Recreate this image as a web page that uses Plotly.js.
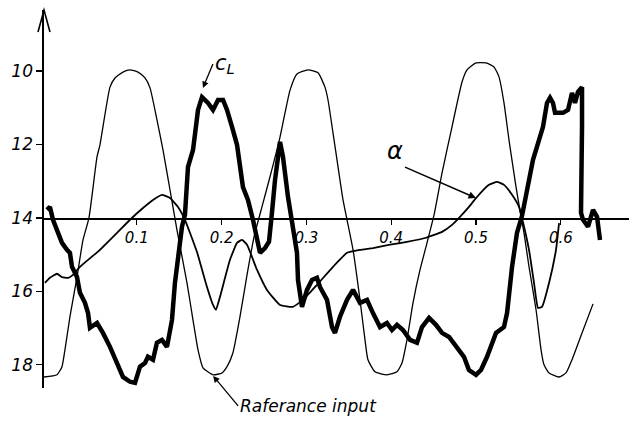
<!DOCTYPE html>
<html>
<head>
<meta charset="utf-8">
<script src="https://cdn.plot.ly/plotly-3.0.1.min.js"></script>
<style>html,body{margin:0;padding:0;background:#fff;}#chart{width:629px;height:427px;}</style>
</head>
<body>
<div id="chart"></div>
<script>
// Reference input (thin line)
const refX = [-0.0094,0.0059,0.0118,0.0153,0.0212,0.0295,0.0366,0.0436,0.0531,0.0566,0.0684,0.0743,0.0837,0.0920,0.1014,0.1097,0.1156,0.1238,0.1309,0.1392,0.1474,0.1592,0.1663,0.1722,0.1781,0.1899,0.2005,0.2064,0.2134,0.2217,0.2300,0.2382,0.2476,0.2571,0.2689,0.2748,0.2807,0.2889,0.3019,0.3137,0.3219,0.3255,0.3314,0.3373,0.3432,0.3479,0.3550,0.3632,0.3691,0.3726,0.3809,0.3950,0.4068,0.4127,0.4186,0.4257,0.4340,0.4410,0.4505,0.4599,0.4717,0.4835,0.4894,0.5000,0.5118,0.5212,0.5271,0.5330,0.5389,0.5472,0.5531,0.5566,0.5625,0.5708,0.5767,0.5802,0.5861,0.5979,0.6061,0.6132,0.6250,0.6380];
const refY = [18.33,18.27,18.05,17.59,16.69,15.61,14.60,14.00,12.34,12.01,10.44,10.19,10.03,9.97,10.03,10.19,10.46,11.33,12.15,13.24,14.33,15.77,16.78,17.59,18.08,18.27,18.22,18.05,17.67,16.69,15.55,14.52,13.70,12.88,11.80,11.14,10.52,10.08,9.97,10.05,10.44,10.79,11.69,12.61,13.51,14.05,14.87,16.23,17.32,17.86,18.19,18.27,18.19,17.95,17.32,16.31,15.41,14.79,13.92,12.78,11.52,10.30,9.97,9.78,9.78,9.89,10.16,10.87,11.88,13.16,13.97,14.41,15.33,16.50,17.59,18.00,18.22,18.33,18.22,17.86,17.13,16.34];

// alpha (medium line)
const alphaX = [-0.0083,-0.0024,0.0059,0.0118,0.0189,0.0248,0.0330,0.0566,0.0767,0.0920,0.1073,0.1191,0.1297,0.1392,0.1486,0.1568,0.1710,0.1828,0.1899,0.1934,0.1981,0.2099,0.2182,0.2241,0.2300,0.2417,0.2535,0.2689,0.2842,0.2960,0.3125,0.3314,0.3479,0.3632,0.3785,0.3986,0.4186,0.4410,0.4599,0.4717,0.4811,0.4917,0.5000,0.5153,0.5248,0.5330,0.5425,0.5507,0.5542,0.5625,0.5684,0.5731,0.5778,0.5861,0.5943,0.5979];
const alphaY = [15.77,15.63,15.52,15.61,15.63,15.55,15.33,14.87,14.41,14.05,13.73,13.51,13.37,13.46,13.70,14.05,14.93,15.88,16.37,16.50,16.15,15.14,14.68,14.60,14.73,15.41,15.96,16.37,16.42,16.23,15.82,15.33,14.95,14.87,14.82,14.73,14.65,14.54,14.38,14.19,13.97,13.70,13.46,13.10,13.02,13.10,13.37,13.70,14.00,14.87,15.77,16.45,16.42,15.77,14.87,14.14];

// c_L (thick line)
const clX = [-0.0059,-0.0024,0.0012,0.0071,0.0118,0.0177,0.0212,0.0236,0.0295,0.0330,0.0389,0.0425,0.0448,0.0531,0.0601,0.0684,0.0767,0.0837,0.0920,0.0979,0.1038,0.1097,0.1132,0.1191,0.1238,0.1297,0.1356,0.1392,0.1415,0.1450,0.1486,0.1533,0.1568,0.1604,0.1663,0.1722,0.1769,0.1840,0.1899,0.1958,0.2017,0.2064,0.2123,0.2182,0.2252,0.2311,0.2370,0.2417,0.2453,0.2512,0.2559,0.2594,0.2630,0.2689,0.2724,0.2783,0.2830,0.2889,0.2901,0.2948,0.3007,0.3066,0.3125,0.3160,0.3243,0.3302,0.3337,0.3396,0.3479,0.3550,0.3632,0.3715,0.3785,0.3868,0.3950,0.4009,0.4068,0.4139,0.4222,0.4304,0.4363,0.4446,0.4528,0.4599,0.4682,0.4776,0.4858,0.4917,0.5000,0.5059,0.5130,0.5236,0.5330,0.5366,0.5425,0.5483,0.5542,0.5672,0.5790,0.5837,0.5873,0.5908,0.5932,0.6026,0.6085,0.6132,0.6167,0.6203,0.6250,0.6250,0.6238,0.6238,0.6262,0.6321,0.6380,0.6427,0.6462];
const clY = [13.78,13.70,14.05,14.41,14.68,14.87,14.95,15.33,15.61,16.04,16.31,16.59,16.99,16.86,17.13,17.51,17.95,18.33,18.46,18.49,18.05,17.95,17.78,17.86,17.40,17.32,17.51,17.13,16.78,15.77,15.06,14.24,13.92,12.61,12.15,11.06,10.71,10.87,11.06,10.79,10.79,11.06,11.52,12.01,13.16,13.51,14.05,14.52,14.95,14.82,14.65,13.86,12.97,11.93,12.34,13.43,14.05,14.95,15.69,16.42,15.96,15.69,15.63,15.88,16.23,16.97,17.13,16.69,16.23,15.96,16.31,16.23,16.59,16.97,16.86,17.05,16.91,17.05,17.32,17.40,16.97,16.72,16.91,17.13,17.24,17.51,17.78,18.14,18.27,18.14,17.78,17.13,16.97,16.59,15.33,14.41,13.95,12.42,11.52,10.87,10.73,10.87,11.14,11.14,11.06,10.60,10.87,10.57,10.44,11.52,12.88,13.86,14.05,14.24,13.78,13.97,14.60];

const xTickVals = [0.1,0.2,0.3,0.4,0.5,0.6];
const xTickText = ['0.1','0.2','0.3','0.4','0.5','0.6'];
const yTickVals = [10,12,14,16,18];
const yTickText = ['10','12','14','16','18'];

const labelCL = 'c<sub>L</sub>';
const labelAlpha = 'α';
const labelRef = 'Raferance input';

const traces = [
  {x: refX, y: refY, type: 'scatter', mode: 'lines', line: {color: '#000', width: 1.3, shape: 'spline', smoothing: 0.5}, hoverinfo: 'skip'},
  {x: alphaX, y: alphaY, type: 'scatter', mode: 'lines', line: {color: '#000', width: 1.8, shape: 'spline', smoothing: 0.4}, hoverinfo: 'skip'},
  {x: clX, y: clY, type: 'scatter', mode: 'lines', line: {color: '#000', width: 4.5, shape: 'linear'}, hoverinfo: 'skip'}
];

const fontBase = {family: 'DejaVu Sans', color: '#000', style: 'italic'};

const layout = {
  width: 629, height: 427,
  margin: {l: 44, r: 0, t: 10, b: 39, pad: 0},
  paper_bgcolor: '#fff', plot_bgcolor: '#fff',
  showlegend: false,
  xaxis: {
    range: [-0.0094, 0.6804],
    anchor: 'free', position: 0.45,
    showline: true, linecolor: '#000', linewidth: 1.8,
    showgrid: false, zeroline: false,
    ticks: 'outside', ticklen: 5, tickwidth: 1.2, tickcolor: '#000',
    tickvals: xTickVals, ticktext: xTickText,
    tickfont: Object.assign({}, fontBase, {size: 15})
  },
  yaxis: {
    range: [18.63, 8.34],
    showline: true, linecolor: '#000', linewidth: 1.6,
    showgrid: false, zeroline: false,
    ticks: 'outside', ticklen: 6, tickwidth: 1.2, tickcolor: '#000',
    tickvals: yTickVals, ticktext: yTickText,
    tickfont: Object.assign({}, fontBase, {size: 17})
  },
  shapes: [
    {type: 'path', xref: 'paper', yref: 'paper', xsizemode: 'pixel', ysizemode: 'pixel',
     xanchor: 0, yanchor: 1, path: 'M -6,-22 L 0,0 L 6,-22',
     line: {color: '#000', width: 1.6}}
  ],
  annotations: [
    {x: 0.178, y: 10.46, xref: 'x', yref: 'y', text: labelCL, showarrow: true,
     ax: 10, ay: -24, xanchor: 'left', yanchor: 'middle',
     arrowhead: 2, arrowsize: 1, arrowwidth: 1.3, arrowcolor: '#000',
     font: Object.assign({}, fontBase, {size: 21})},
    {x: 0.5, y: 13.46, xref: 'x', yref: 'y', text: labelAlpha, showarrow: true,
     ax: -71, ay: -31, xanchor: 'right', yanchor: 'bottom',
     arrowhead: 2, arrowsize: 1, arrowwidth: 1.5, arrowcolor: '#000',
     font: Object.assign({}, fontBase, {size: 24})},
    {x: 0.19, y: 18.30, xref: 'x', yref: 'y', text: labelRef, showarrow: true,
     ax: 25, ay: 30, xanchor: 'left', yanchor: 'middle',
     arrowhead: 2, arrowsize: 1, arrowwidth: 1.3, arrowcolor: '#000',
     font: Object.assign({}, fontBase, {size: 17})}
  ]
};

Plotly.newPlot('chart', traces, layout, {staticPlot: true, displayModeBar: false});
</script>
</body>
</html>
